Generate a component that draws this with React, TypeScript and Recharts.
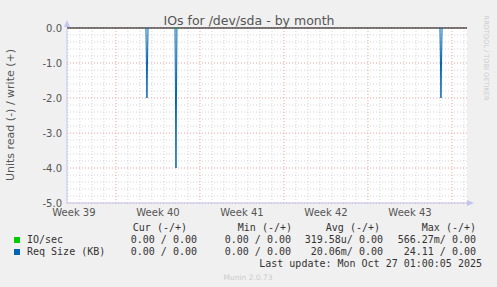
import { LineChart, Line, XAxis, YAxis, CartesianGrid, ReferenceLine } from 'recharts';

// x is in days, 0 = start of week 40; nulls break the line between spikes
const times = [-4.08, 2.5, 2.58, 2.67, 3.5, 4.92, 5.0, 5.08, 15, 27.0, 27.08, 27.17, 29.25];
const reqSizeRead = [null, 0, -2, 0, null, 0, -4, 0, null, 0, -2, 0, null];
const ioRead = [null, null, null, null, null, 0, 0, 0, null, null, null, null, null];

const weekCenters = [-3.5, 3.5, 10.5, 17.5, 24.5];
const weekLabels = ['Week 39', 'Week 40', 'Week 41', 'Week 42', 'Week 43'];
const weekStarts = [0, 7, 14, 21, 28];
const yTicks = [0, -1, -2, -3, -4, -5];

const seriesNames = ['IO/sec', 'Req Size (KB)'];
const seriesColors = ['#00cc00', '#0066b3'];
const curVals = ['0.00 / 0.00', '0.00 / 0.00'];
const minVals = ['0.00 / 0.00', '0.00 / 0.00'];
const avgVals = ['319.58u/ 0.00', '20.06m/ 0.00'];
const maxVals = ['566.27m/ 0.00', '24.11 / 0.00'];

const data = times.map((t, i) => ({ t, req: reqSizeRead[i], io: ioRead[i] }));

const minorX: number[] = [];
for (let d = -4; d <= 29; d++) if (!weekStarts.includes(d)) minorX.push(d);
const minorY: number[] = [];
for (let v = -4.8; v < 0; v += 0.2) {
  const r = Math.round(v * 10) / 10;
  if (!yTicks.includes(r)) minorY.push(r);
}

const mono = 'DejaVu Sans Mono, monospace';
const sans = 'DejaVu Sans, sans-serif';

export default function App() {
  return (
    <div style={{ position: 'absolute', left: 0, top: 0, width: 497, height: 287, background: '#f0f0f0' }}>
      <LineChart width={497} height={287} data={data} margin={{ top: 28, right: 30, bottom: 68, left: 7 }}>
        <CartesianGrid fill="#ffffff" horizontal={false} vertical={false} />
        {minorX.map((d) => (
          <ReferenceLine key={'mx' + d} x={d} stroke="#d4d4d4" strokeDasharray="1 2" />
        ))}
        {minorY.map((v) => (
          <ReferenceLine key={'my' + v} y={v} stroke="#d4d4d4" strokeDasharray="1 2" />
        ))}
        {weekStarts.map((d) => (
          <ReferenceLine key={'Mx' + d} x={d} stroke="#f0a0a0" strokeDasharray="1 2" />
        ))}
        {yTicks.map((v) => (
          <ReferenceLine key={'My' + v} y={v} stroke="#f0a0a0" strokeDasharray="1 2" />
        ))}
        <ReferenceLine y={0} stroke="#000000" />
        <XAxis
          dataKey="t"
          type="number"
          domain={[-4.08, 29.25]}
          allowDataOverflow
          ticks={weekCenters}
          tickFormatter={(v) => weekLabels[weekCenters.indexOf(v)]}
          interval={0}
          height={16}
          tickLine={false}
          tickSize={0}
          tickMargin={6}
          axisLine={{ stroke: '#c4c4f0' }}
          tick={{ fill: '#555555', fontSize: 10, fontFamily: sans }}
        />
        <YAxis
          type="number"
          domain={[-5, 0]}
          ticks={yTicks}
          interval={0}
          width={60}
          tickFormatter={(v) => (v === 0 ? '0.0' : v.toFixed(1))}
          tickLine={false}
          tickSize={0}
          tickMargin={5}
          axisLine={{ stroke: '#c4c4f0' }}
          tick={{ fill: '#555555', fontSize: 10, fontFamily: sans }}
        />
        <Line dataKey="req" stroke="#0066b3" strokeWidth={1} dot={false} connectNulls={false} isAnimationActive={false} />
        <Line dataKey="io" stroke="#00cc00" strokeWidth={1} dot={false} connectNulls={false} isAnimationActive={false} />
      </LineChart>
      <svg width={497} height={287} style={{ position: 'absolute', left: 0, top: 0, pointerEvents: 'none' }}>
        <polygon points="64,27 70,27 67,20" fill="#c4c4f0" />
        <polygon points="467,200 467,206 474,203" fill="#c4c4f0" />
        <text x={249} y={24.5} textAnchor="middle" fontFamily={sans} fontSize={12.5} fill="#555555">
          IOs for /dev/sda - by month
        </text>
        <text
          transform="translate(14,115) rotate(-90)"
          textAnchor="middle"
          fontFamily={sans}
          fontSize={11}
          fill="#555555"
        >
          Units read (-) / write (+)
        </text>
        <text
          transform="translate(484,58) rotate(90)"
          textAnchor="middle"
          fontFamily={sans}
          fontSize={6.6}
          fill="#cccccc"
        >
          RRDTOOL / TOBI OETIKER
        </text>
        <g fontFamily={mono} fontSize={10} fill="#333333" style={{ whiteSpace: 'pre' }}>
          <text x={187} y={231} textAnchor="end">Cur (-/+)</text>
          <text x={292} y={231} textAnchor="end">Min (-/+)</text>
          <text x={380} y={231} textAnchor="end">Avg (-/+)</text>
          <text x={476} y={231} textAnchor="end">Max (-/+)</text>
          {seriesNames.map((n, i) => (
            <g key={n}>
              <rect x={14} y={237 + i * 12} width={6} height={6} fill={seriesColors[i]} />
              <text x={27} y={243 + i * 12}>{n}</text>
              <text x={197} y={243 + i * 12} textAnchor="end">{curVals[i]}</text>
              <text x={291} y={243 + i * 12} textAnchor="end">{minVals[i]}</text>
              <text x={383} y={243 + i * 12} textAnchor="end">{avgVals[i]}</text>
              <text x={476} y={243 + i * 12} textAnchor="end">{maxVals[i]}</text>
            </g>
          ))}
          <text x={482} y={267} textAnchor="end">Last update: Mon Oct 27 01:00:05 2025</text>
        </g>
        <text x={248} y={280} textAnchor="middle" fontFamily={sans} fontSize={7.5} fill="#cccccc">
          Munin 2.0.73
        </text>
      </svg>
    </div>
  );
}
